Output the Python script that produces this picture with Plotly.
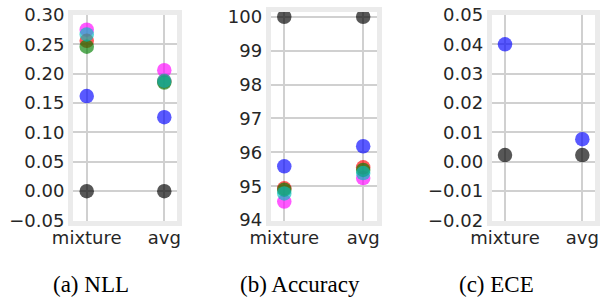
import plotly.graph_objects as go

categories = ["mixture", "avg"]

# NLL values per series
nll_black = [0.0, 0.0]
nll_blue = [0.162, 0.126]
nll_magenta = [0.275, 0.206]
nll_red = [0.256, 0.187]
nll_green = [0.246, 0.185]
nll_cyan = [0.267, 0.188]

# Accuracy values per series
acc_black = [100.0, 100.0]
acc_blue = [95.59, 96.18]
acc_magenta = [94.55, 95.24]
acc_red = [94.94, 95.56]
acc_green = [94.90, 95.48]
acc_cyan = [94.79, 95.39]

# ECE values per series
ece_black = [0.0023, 0.0023]
ece_blue = [0.040, 0.0077]

captions = ["(a) NLL", "(b) Accuracy", "(c) ECE"]

colors = {
    "black": "rgba(0,0,0,0.66)",
    "blue": "rgba(0,0,255,0.65)",
    "magenta": "rgba(255,0,255,0.65)",
    "red": "rgba(255,0,0,0.65)",
    "green": "rgba(0,128,0,0.65)",
    "cyan": "rgba(0,191,191,0.65)",
}

panels = [
    ("x", "y", [("black", nll_black), ("blue", nll_blue), ("magenta", nll_magenta),
                ("red", nll_red), ("green", nll_green), ("cyan", nll_cyan)]),
    ("x2", "y2", [("black", acc_black), ("blue", acc_blue), ("magenta", acc_magenta),
                  ("red", acc_red), ("green", acc_green), ("cyan", acc_cyan)]),
    ("x3", "y3", [("black", ece_black), ("blue", ece_blue)]),
]

fig = go.Figure()
for xa, ya, series in panels:
    for name, vals in series:
        fig.add_trace(go.Scatter(
            x=categories, y=vals, xaxis=xa, yaxis=ya, mode="markers", name=name,
            marker=dict(size=14.5, color=colors[name], line=dict(width=0)),
            showlegend=False, hoverinfo="skip"))

W, H = 600, 297
def px_dom_x(a, b):
    return [a / W, b / W]
def px_dom_y(top, bottom):
    return [(H - bottom) / H, (H - top) / H]

tickfont = dict(family="DejaVu Sans", size=18, color="#262626")
frame = dict(showline=True, mirror=True, linewidth=5, linecolor="#ebebeb", automargin=False)
grid = dict(showgrid=True, gridcolor="#d0d0d0", gridwidth=1.5, zeroline=False, ticks="")

layout = dict(
    template="none",
    width=W, height=H, autosize=False,
    margin=dict(l=0, r=0, t=0, b=0),
    paper_bgcolor="white", plot_bgcolor="white",
    xaxis=dict(domain=px_dom_x(73, 177), anchor="y", type="category",
               range=[-0.177, 1.164], tickfont=tickfont, ticklabelstandoff=-3, **frame, **grid),
    yaxis=dict(domain=px_dom_y(15, 220.5), anchor="x", range=[-0.05, 0.30],
               tick0=-0.05, dtick=0.05, tickformat=".2f", tickfont=tickfont, **frame, **grid),
    xaxis2=dict(domain=px_dom_x(270.7, 377), anchor="y2", type="category",
                range=[-0.172, 1.175], tickfont=tickfont, ticklabelstandoff=-3, **frame, **grid),
    yaxis2=dict(domain=px_dom_y(12, 220.5), anchor="x2", range=[93.99, 100.14],
                tick0=94, dtick=1, tickformat="d", tickfont=tickfont, **frame, **grid),
    xaxis3=dict(domain=px_dom_x(491.7, 595), anchor="y3", type="category",
                range=[-0.172, 1.164], tickfont=tickfont, ticklabelstandoff=-3, **frame, **grid),
    yaxis3=dict(domain=px_dom_y(15, 220.5), anchor="x3", range=[-0.02, 0.05],
                tick0=-0.02, dtick=0.01, tickformat=".2f", tickfont=tickfont, **frame, **grid),
)
fig.update_layout(**layout)

cap_x = [91, 300, 496]
for cx, text in zip(cap_x, captions):
    fig.add_annotation(text=text, x=cx / W, y=(H - 284) / H, xref="paper", yref="paper",
                       xanchor="center", yanchor="middle", showarrow=False,
                       font=dict(family="Liberation Serif", size=23, color="black"))

fig.write_html("out.html", config={"displayModeBar": False},
               post_script="document.body.style.margin='0px';document.body.style.overflow='hidden';")
